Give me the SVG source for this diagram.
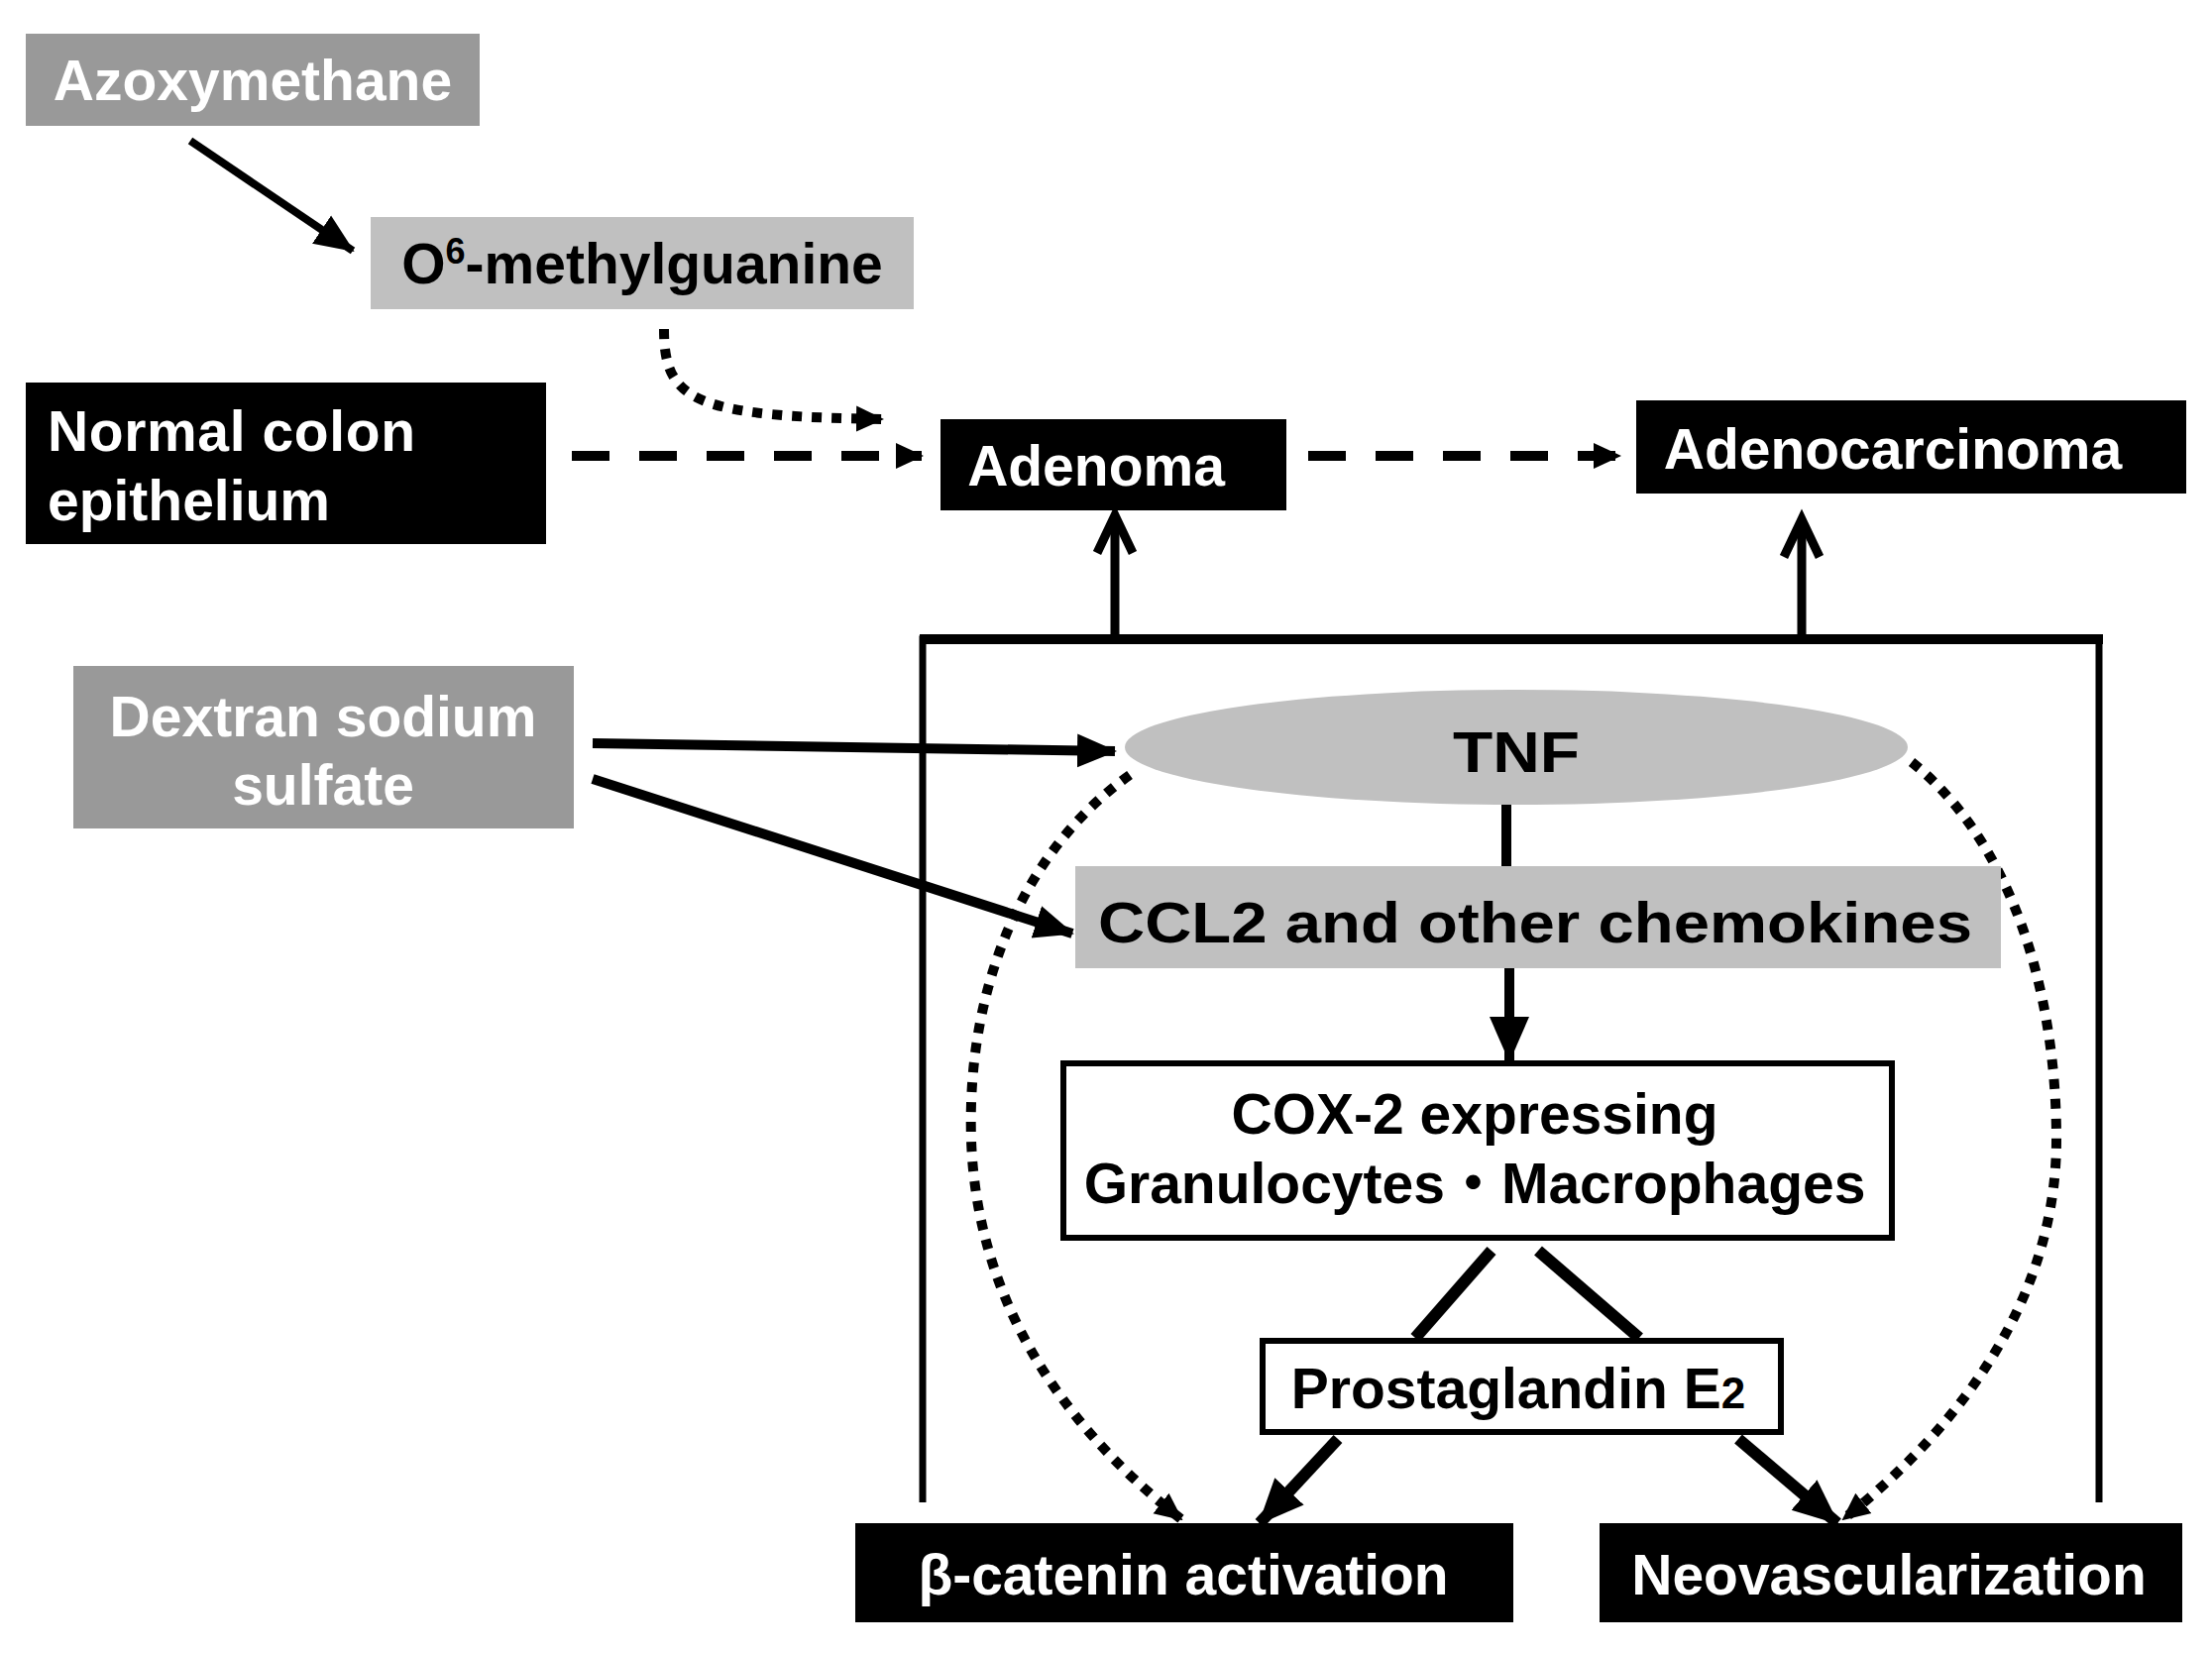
<svg xmlns="http://www.w3.org/2000/svg" width="2232" height="1668" viewBox="0 0 2232 1668">
<style>
text{font-family:"Liberation Sans",Arial,"Noto Sans CJK JP",sans-serif;font-weight:bold;font-size:57px}
.w{fill:#fff}
.k{fill:#000}
.dk{fill:#999999}
.lt{fill:#c0c0c0}
.bx{fill:#fff;stroke:#000;stroke-width:6}
.ln{fill:none;stroke:#000;stroke-linecap:butt}
.dot{stroke-width:10;stroke-dasharray:10 10}
</style>
<defs>
<marker id="ah" markerUnits="userSpaceOnUse" markerWidth="40" markerHeight="40" viewBox="0 0 40 40" refX="38" refY="20" orient="auto">
<path d="M0,3 L40,20 L0,37 Z" fill="#000"/>
</marker>
<marker id="ahb" markerUnits="userSpaceOnUse" markerWidth="46" markerHeight="46" viewBox="0 0 46 46" refX="44" refY="23" orient="auto">
<path d="M0,3 L46,23 L0,43 Z" fill="#000"/>
</marker>
<marker id="ahs" markerUnits="userSpaceOnUse" markerWidth="28" markerHeight="28" viewBox="0 0 28 28" refX="26" refY="14" orient="auto">
<path d="M0,1 L28,14 L0,27 Z" fill="#000"/>
</marker>
</defs>
<rect width="2232" height="1668" fill="#fff"/>

<g id="connectors">
<line class="ln" x1="192" y1="142" x2="356" y2="253" stroke-width="8" marker-end="url(#ah)"/>
<path class="ln dot" d="M670,332 C670,405 700,420 890,423" marker-end="url(#ahs)"/>
<line class="ln" x1="577" y1="460" x2="930" y2="460" stroke-width="10" stroke-dasharray="38 30" marker-end="url(#ahs)"/>
<line class="ln" x1="1320" y1="460" x2="1634" y2="460" stroke-width="10" stroke-dasharray="38 30" marker-end="url(#ahs)"/>
<path class="ln" d="M931,1516 V645 H2118 V1516" stroke-width="7"/>
<line class="ln" x1="928" y1="645" x2="2122" y2="645" stroke-width="10"/>
<line class="ln" x1="1125" y1="645" x2="1125" y2="520" stroke-width="9"/>
<path class="ln" d="M1107,558 L1125,520 L1143,558" stroke-width="9" stroke-linecap="round" stroke-linejoin="miter"/>
<line class="ln" x1="1818" y1="645" x2="1818" y2="524" stroke-width="9"/>
<path class="ln" d="M1800,562 L1818,524 L1836,562" stroke-width="9" stroke-linecap="round"/>
<line class="ln" x1="598" y1="750" x2="1125" y2="758" stroke-width="10" marker-end="url(#ah)"/>
<line class="ln" x1="598" y1="786" x2="1082" y2="942" stroke-width="10" marker-end="url(#ah)"/>
<line class="ln" x1="1520" y1="811" x2="1520" y2="874" stroke-width="10"/>
<line class="ln" x1="1523" y1="977" x2="1523" y2="1070" stroke-width="10" marker-end="url(#ahb)"/>
<line class="ln" x1="1505" y1="1262" x2="1428" y2="1350" stroke-width="12"/>
<line class="ln" x1="1552" y1="1262" x2="1654" y2="1350" stroke-width="12"/>
<line class="ln" x1="1350" y1="1452" x2="1271" y2="1537" stroke-width="12" marker-end="url(#ahb)"/>
<line class="ln" x1="1754" y1="1452" x2="1854" y2="1537" stroke-width="12" marker-end="url(#ahb)"/>
<path class="ln dot" d="M1140,782 C1030,860 975,1000 980,1150 C985,1300 1060,1430 1192,1533" marker-end="url(#ahs)"/>
<path class="ln dot" d="M1929,769 C2030,850 2075,1000 2075,1150 C2075,1300 1990,1430 1860,1533" marker-end="url(#ahs)"/>
</g>

<g id="azoxymethane">
<rect class="dk" x="26" y="34" width="458" height="93"/>
<text class="w" x="255" y="101" text-anchor="middle">Azoxymethane</text>
</g>
<g id="o6methylguanine">
<rect class="lt" x="374" y="219" width="548" height="93"/>
<text class="k" x="648" y="286" text-anchor="middle">O<tspan font-size="36" dy="-20">6</tspan><tspan dy="20">-methylguanine</tspan></text>
</g>
<g id="normal-colon">
<rect class="k" x="26" y="386" width="525" height="163"/>
<text class="w" x="48" y="455" textLength="371">Normal colon</text>
<text class="w" x="48" y="525">epithelium</text>
</g>
<g id="adenoma">
<rect class="k" x="949" y="423" width="349" height="92"/>
<text class="w" x="1106" y="490" text-anchor="middle">Adenoma</text>
</g>
<g id="adenocarcinoma">
<rect class="k" x="1651" y="404" width="555" height="94"/>
<text class="w" x="1910" y="473" text-anchor="middle">Adenocarcinoma</text>
</g>
<g id="dss">
<rect class="dk" x="74" y="672" width="505" height="164"/>
<text class="w" x="326" y="743" text-anchor="middle">Dextran sodium</text>
<text class="w" x="326" y="812" text-anchor="middle">sulfate</text>
</g>
<g id="tnf">
<ellipse class="lt" cx="1530" cy="754" rx="395" ry="58"/>
<text class="k" x="1530" y="779" text-anchor="middle" font-size="68" textLength="128" lengthAdjust="spacingAndGlyphs">TNF</text>
</g>
<g id="ccl2">
<rect class="lt" x="1085" y="874" width="934" height="103"/>
<text class="k" x="1549" y="951" text-anchor="middle" font-size="66" textLength="882" lengthAdjust="spacingAndGlyphs">CCL2 and other chemokines</text>
</g>
<g id="cox2">
<rect class="bx" x="1073" y="1073" width="836" height="176"/>
<text class="k" x="1488" y="1144" text-anchor="middle">COX-2 expressing</text>
<text class="k" x="1488" y="1214" text-anchor="middle">Granulocytes・Macrophages</text>
</g>
<g id="pge2">
<rect class="bx" x="1274" y="1353" width="523" height="92"/>
<text class="k" x="1532" y="1421" text-anchor="middle">Prostaglandin E<tspan font-size="44">2</tspan></text>
</g>
<g id="bcatenin">
<rect class="k" x="863" y="1537" width="664" height="100"/>
<text class="w" x="1194" y="1609" text-anchor="middle">β-catenin activation</text>
</g>
<g id="neovascularization">
<rect class="k" x="1614" y="1537" width="588" height="100"/>
<text class="w" x="1906" y="1609" text-anchor="middle">Neovascularization</text>
</g>
</svg>
